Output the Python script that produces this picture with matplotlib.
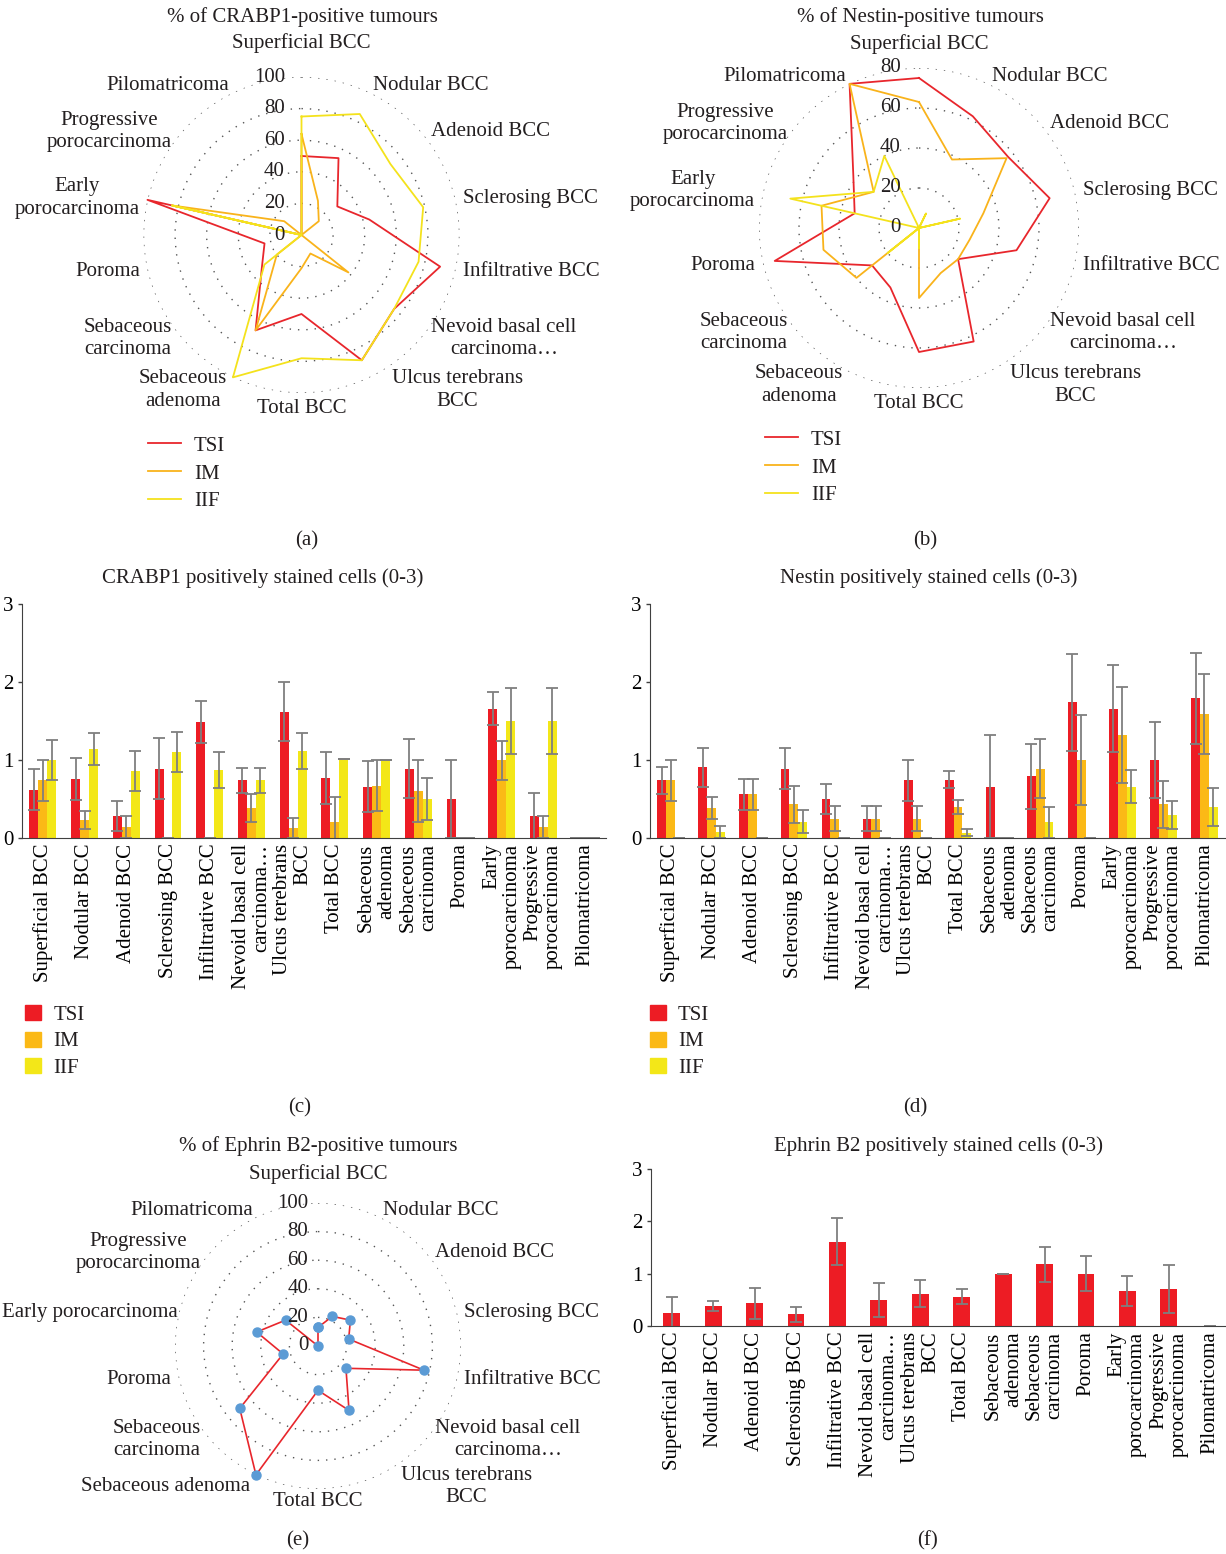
import matplotlib.pyplot as plt
import numpy as np
from matplotlib.patches import Patch
from matplotlib.lines import Line2D

plt.rcParams['font.family'] = ['Liberation Serif', 'DejaVu Serif']
plt.rcParams['font.size'] = 15
plt.rcParams['text.color'] = '#231F20'

categories = ['Superficial BCC', 'Nodular BCC', 'Adenoid BCC', 'Sclerosing BCC',
              'Infiltrative BCC', 'Nevoid basal cell carcinoma…', 'Ulcus terebrans BCC',
              'Total BCC', 'Sebaceous adenoma', 'Sebaceous carcinoma', 'Poroma',
              'Early porocarcinoma', 'Progressive porocarcinoma', 'Pilomatricoma']
radar_labels = ['Superficial BCC', 'Nodular BCC', 'Adenoid BCC', 'Sclerosing BCC',
                'Infiltrative BCC', 'Nevoid basal cell\ncarcinoma…', 'Ulcus terebrans\nBCC',
                'Total BCC', 'Sebaceous\nadenoma', 'Sebaceous\ncarcinoma', 'Poroma',
                'Early\nporocarcinoma', 'Progressive\nporocarcinoma', 'Pilomatricoma']
radar_labels_e = ['Superficial BCC', 'Nodular BCC', 'Adenoid BCC', 'Sclerosing BCC',
                  'Infiltrative BCC', 'Nevoid basal cell\ncarcinoma…', 'Ulcus terebrans\nBCC',
                  'Total BCC', 'Sebaceous adenoma', 'Sebaceous\ncarcinoma', 'Poroma',
                  'Early porocarcinoma', 'Progressive\nporocarcinoma', 'Pilomatricoma']
bar_labels = ['Superficial BCC', 'Nodular BCC', 'Adenoid BCC', 'Sclerosing BCC',
              'Infiltrative BCC', 'Nevoid basal cell\ncarcinoma…', 'Ulcus terebrans\nBCC',
              'Total BCC', 'Sebaceous\nadenoma', 'Sebaceous\ncarcinoma', 'Poroma',
              'Early\nporocarcinoma', 'Progressive\nporocarcinoma', 'Pilomatricoma']
series = ['TSI', 'IM', 'IIF']

# % positive tumours (radar charts)
crabp1_pct_tsi = [50, 54, 29, 44, 90, 75, 88, 50, 67, 32, 24, 100, 0, 0]
crabp1_pct_im = [64, 24, 14, 0, 0, 38, 13, 21, 67, 20, 0, 84, 14, 0]
crabp1_pct_iif = [75, 85, 72, 79, 76, 75, 88, 78, 100, 30, 0, 84, 0, 0]

nestin_pct_tsi = [75, 62, 57, 67, 50, 25, 63, 62, 33, 30, 74, 33, 42, 80]
nestin_pct_im = [63, 38, 56, 33, 26, 25, 25, 35, 0, 40, 49, 50, 29, 80]
nestin_pct_iif = [0, 8, 0, 21, 0, 0, 0, 10, 0, 20, 0, 66, 29, 40]

ephrin_pct = [13, 23, 29, 22, 76, 25, 50, 31, 100, 70, 25, 44, 29, 0]

# positively stained cells (0-3), mean and error
crabp1_tsi = [0.62, 0.76, 0.28, 0.89, 1.49, 0.74, 1.62, 0.77, 0.66, 0.89, 0.50, 1.66, 0.28, 0]
crabp1_tsi_err = [0.26, 0.27, 0.19, 0.39, 0.27, 0.16, 0.38, 0.33, 0.33, 0.38, 0.50, 0.21, 0.30, 0]
crabp1_im = [0.74, 0.23, 0.14, 0, 0, 0.38, 0.13, 0.20, 0.67, 0.60, 0, 1.00, 0.14, 0]
crabp1_im_err = [0.26, 0.12, 0.14, 0, 0, 0.18, 0.13, 0.33, 0.33, 0.40, 0, 0.25, 0.14, 0]
crabp1_iif = [1.00, 1.14, 0.86, 1.10, 0.87, 0.74, 1.12, 1.01, 1.00, 0.50, 0, 1.50, 1.50, 0]
crabp1_iif_err = [0.26, 0.20, 0.26, 0.26, 0.23, 0.16, 0.23, 0.0, 0.0, 0.27, 0, 0.42, 0.42, 0]

nestin_tsi = [0.74, 0.91, 0.56, 0.89, 0.50, 0.25, 0.74, 0.75, 0.66, 0.79, 1.74, 1.66, 1.00, 1.79]
nestin_tsi_err = [0.17, 0.25, 0.20, 0.26, 0.19, 0.16, 0.26, 0.11, 0.66, 0.42, 0.62, 0.56, 0.49, 0.58]
nestin_im = [0.74, 0.38, 0.56, 0.43, 0.25, 0.25, 0.25, 0.40, 0, 0.89, 1.00, 1.32, 0.43, 1.59]
nestin_im_err = [0.26, 0.14, 0.20, 0.24, 0.16, 0.16, 0.16, 0.09, 0, 0.38, 0.58, 0.61, 0.30, 0.51]
nestin_iif = [0, 0.08, 0, 0.21, 0, 0, 0, 0.07, 0, 0.20, 0, 0.66, 0.29, 0.40]
nestin_iif_err = [0, 0.08, 0, 0.15, 0, 0, 0, 0.04, 0, 0.20, 0, 0.21, 0.18, 0.24]

ephrin_mean = [0.25, 0.38, 0.43, 0.22, 1.61, 0.50, 0.62, 0.56, 1.00, 1.18, 1.00, 0.67, 0.71, 0]
ephrin_err = [0.30, 0.10, 0.30, 0.14, 0.45, 0.33, 0.26, 0.14, 0.0, 0.33, 0.33, 0.28, 0.46, 0]

line_colors = ['#E8262C', '#F9B31B', '#F4E21C']
bar_colors = ['#ED1C24', '#FBB916', '#F3E718']
blue = '#5B9BD5'

W, H = 1226, 1554
fig = plt.figure(figsize=(W / 100, H / 100), dpi=100)
radar_texts = []


def rect(x0, y0, x1, y1):
    return [x0 / W, 1 - y1 / H, (x1 - x0) / W, (y1 - y0) / H]


def radar(cx, cy, R, rmax, step, data, labels, tick_off, top_r=1.12, side_r=1.05, bot_r=1.04, dots=False):
    ax = fig.add_axes(rect(cx - R, cy - R, cx + R, cy + R), projection='polar')
    ax.set_theta_zero_location('N')
    ax.set_theta_direction(-1)
    n = len(labels)
    ang = np.arange(n) * 2 * np.pi / n
    a = np.r_[ang, ang[0]]
    for vals, col in data:
        v = np.r_[vals, vals[0]]
        if dots:
            ax.plot(a, v, color=col, lw=1.2, marker='o', ms=6.5, mfc=blue, mec=blue, clip_on=False, zorder=3)
        else:
            ax.plot(a, v, color=col, lw=1.3, clip_on=False, zorder=3)
    ax.set_ylim(0, rmax)
    ticks = np.arange(0, rmax + 1, step)
    ax.set_yticks(ticks[1:])
    ax.set_yticklabels([])
    ax.set_xticks([])
    ax.yaxis.grid(True, color='#555555', linestyle=(0, (1, 5)), lw=1.0)
    ax.spines['polar'].set_visible(False)
    for t in ticks:
        ax.annotate(str(t), xy=(0, t), xytext=(-tick_off, 0), textcoords='offset points',
                    ha='right', va='center')
    for th, lab in zip(ang, labels):
        s, c = np.sin(th), np.cos(th)
        dx = 0
        if c > 0.95:
            ha, va, r = 'center', 'bottom', top_r
        elif c < -0.95:
            ha, va, r = 'center', 'top', bot_r
        elif c < -0.85:
            # lower labels sit a bit further out
            ha = 'left' if s > 0 else 'right'
            va, r = 'center', 1.09
            dx = 11 if s > 0 else 0
        else:
            ha = 'left' if s > 0 else 'right'
            va, r = 'center', side_r
        t = ax.annotate(lab, xy=(th, rmax * r), xytext=(dx, 0), textcoords='offset points',
                        ha=ha, va=va, multialignment='center', linespacing=1.25, annotation_clip=False)
        radar_texts.append(t)
    return ax


def bars(box, data, errs, width):
    ax = fig.add_axes(rect(*box))
    x = np.arange(len(categories))
    k = len(data)
    for i, (vals, err) in enumerate(zip(data, errs)):
        ax.bar(x + (i - (k - 1) / 2) * width, vals, width, color=bar_colors[i], yerr=err,
               error_kw=dict(ecolor='#7F7F7F', elinewidth=1.3, capsize=4, capthick=1.3))
    ax.set_xlim(-0.5, len(categories) - 0.5)
    ax.set_ylim(0, 3)
    ax.set_yticks([0, 1, 2, 3])
    ax.set_xticks(x)
    ax.set_xticklabels(bar_labels, rotation=90, ha='center', va='top', multialignment='right',
                       linespacing=1.1)
    ax.tick_params(axis='x', length=0, pad=4)
    ax.tick_params(axis='y', length=3, width=1, color='#404040', pad=3)
    for sp in ['top', 'right']:
        ax.spines[sp].set_visible(False)
    for sp in ['left', 'bottom']:
        ax.spines[sp].set_color('#404040')
    return ax


# (a)
radar(301.5, 235, 158, 100, 20,
      [(crabp1_pct_tsi, line_colors[0]), (crabp1_pct_im, line_colors[1]), (crabp1_pct_iif, line_colors[2])],
      radar_labels, 12, top_r=1.15)
# (b)
radar(919, 228, 160, 80, 20,
      [(nestin_pct_tsi, line_colors[0]), (nestin_pct_im, line_colors[1]), (nestin_pct_iif, line_colors[2])],
      radar_labels, 13, top_r=1.09)
# (e)
radar(318, 1346, 143, 100, 20, [(ephrin_pct, line_colors[0])], radar_labels_e, 7, top_r=1.13, bot_r=1.02, dots=True)

# (c), (d), (f)
bars((22, 604, 606, 838), [crabp1_tsi, crabp1_im, crabp1_iif],
     [crabp1_tsi_err, crabp1_im_err, crabp1_iif_err], 0.215)
bars((650, 604, 1225, 838), [nestin_tsi, nestin_im, nestin_iif],
     [nestin_tsi_err, nestin_im_err, nestin_iif_err], 0.215)
bars((651, 1169, 1231, 1326), [ephrin_mean], [ephrin_err], 0.41)

# keep radar labels inside the left edge of the figure
fig.canvas.draw()
for t in radar_texts:
    x0 = t.get_window_extent().x0
    if x0 < 2:
        ox, oy = t.get_position() if False else t.xyann
        t.xyann = (ox + (2 - x0) * 72 / fig.dpi, oy)

# titles
titles = [(302, 17, '% of CRABP1-positive tumours'), (920, 17, '% of Nestin-positive tumours'),
          (263, 578, 'CRABP1 positively stained cells (0-3)'),
          (929, 578, 'Nestin positively stained cells (0-3)'),
          (318, 1146, '% of Ephrin B2-positive tumours'),
          (938, 1146, 'Ephrin B2 positively stained cells (0-3)')]
for x, y, t in titles:
    fig.text(x / W, 1 - y / H, t, ha='center', va='center')

panels = [(307, 541, '(a)'), (925, 541, '(b)'), (300, 1108, '(c)'), (915, 1108, '(d)'),
          (298, 1541, '(e)'), (927, 1541, '(f)')]
for x, y, t in panels:
    fig.text(x / W, 1 - y / H, t, ha='center', va='center')

# legends
line_handles = [Line2D([], [], color=c, lw=1.3) for c in line_colors]
patch_handles = [Patch(color=c) for c in bar_colors]
for x, y in [(148, 436), (765, 430)]:
    fig.legend(line_handles, series, loc='upper left', bbox_to_anchor=(x / W, 1 - y / H),
               frameon=False, handlelength=1.6, handletextpad=0.6, labelspacing=0.4,
               borderpad=0, borderaxespad=0)
for x, y in [(25, 1005), (650, 1005)]:
    fig.legend(patch_handles, series, loc='upper left', bbox_to_anchor=(x / W, 1 - y / H),
               frameon=False, handlelength=0.75, handleheight=0.75, handletextpad=0.6,
               labelspacing=0.32, borderpad=0, borderaxespad=0)

fig.savefig('out.png', dpi=100, facecolor='white')
